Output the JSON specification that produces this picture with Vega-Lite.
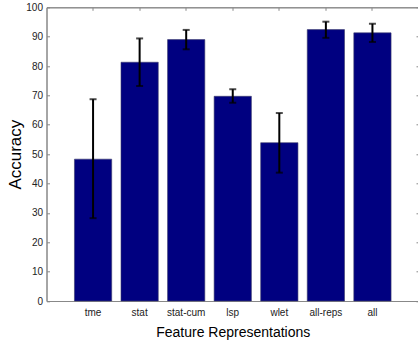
{
  "$schema": "https://vega.github.io/schema/vega-lite/v6.json",
  "width": 372.5,
  "height": 293.7,
  "autosize": {"type": "none"},
  "padding": {"left": 46.5, "top": 7.3, "right": 0, "bottom": 44},
  "background": "white",
  "config": {
    "view": {"stroke": "#888888", "strokeWidth": 1},
    "font": "Liberation Sans",
    "axis": {
      "domainColor": "#888888",
      "tickColor": "#888888",
      "labelColor": "#222222",
      "labelFont": "Liberation Sans",
      "labelFontSize": 10,
      "titleFont": "Liberation Sans",
      "titleFontWeight": "normal",
      "titleFontSize": 14,
      "titleColor": "#000000",
      "grid": false
    }
  },
  "data": {
    "values": [
      {"rep": "tme", "acc": 48.3, "lo": 28.2, "hi": 68.7},
      {"rep": "stat", "acc": 81.3, "lo": 73.2, "hi": 89.4},
      {"rep": "stat-cum", "acc": 89.0, "lo": 85.7, "hi": 92.3},
      {"rep": "lsp", "acc": 69.7, "lo": 67.5, "hi": 72.1},
      {"rep": "wlet", "acc": 53.9, "lo": 43.7, "hi": 64.0},
      {"rep": "all-reps", "acc": 92.4, "lo": 89.6, "hi": 95.1},
      {"rep": "all", "acc": 91.3, "lo": 88.2, "hi": 94.4}
    ]
  },
  "resolve": {"axis": {"x": "independent", "y": "independent"}},
  "layer": [
    {
      "mark": {"type": "bar", "fill": "#000080", "stroke": "#3a3a6a", "strokeWidth": 0.6},
      "encoding": {
        "x": {
          "field": "rep", "type": "nominal", "sort": null,
          "scale": {"paddingInner": 0.2, "paddingOuter": 0.6},
          "axis": {"title": "Feature Representations", "labelAngle": 0, "tickSize": -3, "labelPadding": 9, "titlePadding": 8, "domainColor": "#888888"}
        },
        "y": {
          "field": "acc", "type": "quantitative",
          "scale": {"domain": [0, 100], "nice": false},
          "axis": {"title": "Accuracy", "titleFontSize": 17, "values": [0,10,20,30,40,50,60,70,80,90,100], "tickSize": -3, "labelPadding": 7, "titlePadding": 1}
        }
      }
    },
    {
      "mark": {"type": "rule", "color": "#000000", "strokeWidth": 2},
      "encoding": {
        "x": {"field": "rep", "type": "nominal", "sort": null,
          "axis": {"orient": "top", "title": null, "labels": false, "tickSize": -3}},
        "y": {"field": "lo", "type": "quantitative",
          "axis": {"orient": "right", "title": null, "labels": false, "tickSize": -3, "values": [0,10,20,30,40,50,60,70,80,90,100]}},
        "y2": {"field": "hi"}
      }
    },
    {
      "mark": {"type": "tick", "color": "#000000", "thickness": 2, "size": 7, "orient": "horizontal"},
      "encoding": {
        "x": {"field": "rep", "type": "nominal", "sort": null, "axis": null},
        "y": {"field": "lo", "type": "quantitative", "axis": null}
      }
    },
    {
      "mark": {"type": "tick", "color": "#000000", "thickness": 2, "size": 7, "orient": "horizontal"},
      "encoding": {
        "x": {"field": "rep", "type": "nominal", "sort": null, "axis": null},
        "y": {"field": "hi", "type": "quantitative", "axis": null}
      }
    }
  ]
}
